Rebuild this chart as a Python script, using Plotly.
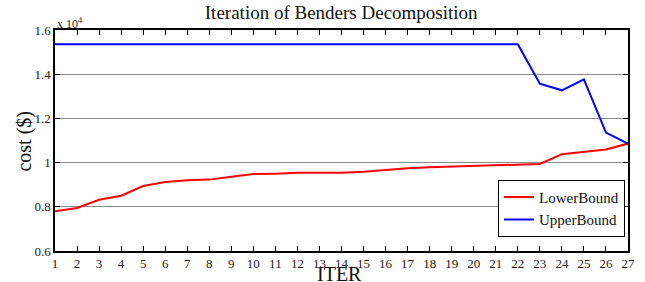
import plotly.graph_objects as go

iters = list(range(1, 28))
lower_bound = [7800, 7950, 8320, 8500, 8940, 9120, 9200, 9230, 9360, 9480,
               9500, 9540, 9540, 9540, 9590, 9680, 9740, 9790, 9820, 9860,
               9910, 9940, 9940, 10380, 10480, 10590, 10860]
upper_bound = [15360] * 22 + [13570, 13270, 13770, 11360, 10860]

y_tickvals = [6000, 8000, 10000, 12000, 14000, 16000]
y_ticktext = ["0.6", "0.8", "1", "1.2", "1.4", "1.6"]

FONT = "Liberation Serif, Times New Roman, serif"

fig = go.Figure()
fig.add_trace(go.Scatter(x=iters, y=lower_bound, mode="lines", name="LowerBound",
                         line=dict(color="#ff0000", width=2)))
fig.add_trace(go.Scatter(x=iters, y=upper_bound, mode="lines", name="UpperBound",
                         line=dict(color="#0000ff", width=2)))

fig.update_layout(
    width=645, height=282,
    margin=dict(l=55, r=17, t=30, b=31, autoexpand=False),
    paper_bgcolor="white", plot_bgcolor="white",
    font=dict(family=FONT, size=13, color="#222"),
    title=dict(text="Iteration of Benders Decomposition", x=0.529, xanchor="center",
               xref="container", yref="container",
               y=0.957, yanchor="middle", font=dict(family=FONT, size=19, color="#111")),
    showlegend=True,
    legend=dict(x=0.9948, y=0.065, xanchor="right", yanchor="bottom",
                bgcolor="white", bordercolor="black", borderwidth=1,
                font=dict(family=FONT, size=15, color="#111"),
                tracegroupgap=0, itemwidth=30),
)
fig.update_xaxes(
    range=[1, 27], tickvals=iters, ticktext=[str(i) for i in iters],
    showline=True, linecolor="black", linewidth=1.5, mirror="ticks",
    ticks="inside", ticklen=5, tickcolor="black",
    showgrid=False, zeroline=False, automargin=False,
    tickfont=dict(family=FONT, size=13, color="#222"),
)
fig.update_yaxes(
    range=[6000, 16000], tickvals=y_tickvals, ticktext=y_ticktext,
    showline=True, linecolor="black", linewidth=1.5, mirror="ticks",
    ticks="inside", ticklen=5, tickcolor="black",
    showgrid=True, gridcolor="#888", gridwidth=1, zeroline=False, automargin=False,
    tickfont=dict(family=FONT, size=13, color="#222"),
)
fig.add_annotation(text="ITER", xref="paper", yref="paper", x=0.497, y=-0.104,
                   xanchor="center", yanchor="middle", showarrow=False,
                   font=dict(family=FONT, size=20, color="#111"))
fig.add_annotation(text="cost ($)", xref="paper", yref="paper", x=-0.053, y=0.498,
                   xanchor="center", yanchor="middle", showarrow=False, textangle=-90,
                   font=dict(family=FONT, size=20, color="#111"))
fig.add_annotation(text="x 10<sup>4</sup>", xref="paper", yref="paper", x=0.0, y=1.0,
                   xanchor="left", yanchor="bottom", showarrow=False,
                   font=dict(family=FONT, size=12, color="#222"), yshift=-3)

fig.write_html("out.html", config={"displayModeBar": False},
               post_script="document.body.style.margin='0';")
